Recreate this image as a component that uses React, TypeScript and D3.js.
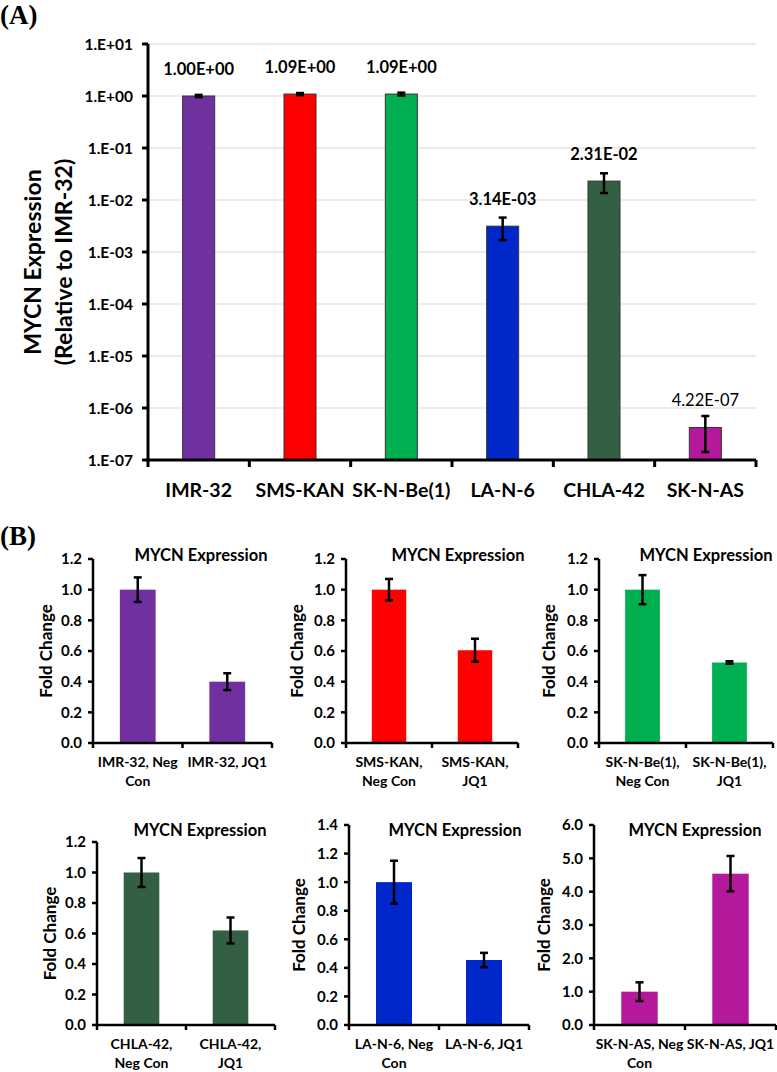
import React from "react";
import * as d3 from "d3";

const W = 777;
const H = 1072;
const FONT = "Lato, 'Open Sans', sans-serif";

// ---------- Panel A data ----------
const cellLinesA = ["IMR-32", "SMS-KAN", "SK-N-Be(1)", "LA-N-6", "CHLA-42", "SK-N-AS"];
const expressionA = [1.0, 1.09, 1.09, 3.14e-3, 2.31e-2, 4.22e-7];
const errorA = [0.05, 0.05, 0.07, 1.45e-3, 0.95e-2, 2.8e-7];
const colorsA = ["#7030A0", "#FF0000", "#00B050", "#0027C9", "#335F43", "#B4189B"];
const ticksA = [1e1, 1e0, 1e-1, 1e-2, 1e-3, 1e-4, 1e-5, 1e-6, 1e-7];
const yTitleA = ["MYCN Expression", "(Relative to IMR-32)"];

// ---------- Panel B data ----------
const cellLinesB = ["IMR-32", "SMS-KAN", "SK-N-Be(1)", "CHLA-42", "LA-N-6", "SK-N-AS"];
const colorsB = ["#7030A0", "#FF0000", "#00B050", "#335F43", "#0027C9", "#B4189B"];
const negConValues = [1.0, 1.0, 1.0, 1.0, 1.0, 1.0];
const negConErrors = [0.08, 0.07, 0.095, 0.095, 0.15, 0.28];
const jq1Values = [0.4, 0.605, 0.525, 0.62, 0.455, 4.54];
const jq1Errors = [0.055, 0.075, 0.008, 0.085, 0.05, 0.53];
const yMaxB = [1.2, 1.2, 1.2, 1.2, 1.4, 6.0];
const yStepB = [0.2, 0.2, 0.2, 0.2, 0.2, 1.0];
const xLabelsB = [
  ["IMR-32, Neg\nCon", "IMR-32, JQ1"],
  ["SMS-KAN,\nNeg Con", "SMS-KAN,\nJQ1"],
  ["SK-N-Be(1),\nNeg Con", "SK-N-Be(1),\nJQ1"],
  ["CHLA-42,\nNeg Con", "CHLA-42,\nJQ1"],
  ["LA-N-6, Neg\nCon", "LA-N-6, JQ1"],
  ["SK-N-AS, Neg\nCon", "SK-N-AS, JQ1"],
];
const titleB = "MYCN Expression";
const yTitleB = "Fold Change";

// ---------- Layout (positions only) ----------
const layoutA = { x0: 148, x1: 756, yTop: 44, yBottom: 460 };
const layoutB = [
  { x0: 93, x1: 272, yBottom: 743, yTop: 559, titleX: 201, titleY: 561, labelX: 46 },
  { x0: 346, x1: 518, yBottom: 743, yTop: 559, titleX: 458, titleY: 561, labelX: 297 },
  { x0: 599, x1: 773, yBottom: 743, yTop: 559, titleX: 706, titleY: 561, labelX: 549 },
  { x0: 97, x1: 275, yBottom: 1025, yTop: 842, titleX: 200, titleY: 836, labelX: 50 },
  { x0: 349, x1: 529, yBottom: 1025, yTop: 825, titleX: 455, titleY: 836, labelX: 299 },
  { x0: 594, x1: 776, yBottom: 1025, yTop: 825, titleX: 695, titleY: 836, labelX: 544 },
];

function sciLabel(v: number): string {
  let e = Math.floor(Math.log10(v));
  let m = v / Math.pow(10, e);
  if (Number(m.toFixed(2)) >= 10) {
    e += 1;
    m = v / Math.pow(10, e);
  }
  const sign = e < 0 ? "-" : "+";
  return `${m.toFixed(2)}E${sign}${String(Math.abs(e)).padStart(2, "0")}`;
}
function tickLabelA(v: number): string {
  const e = Math.round(Math.log10(v));
  const sign = e < 0 ? "-" : "+";
  return `1.E${sign}${String(Math.abs(e)).padStart(2, "0")}`;
}

function PanelA() {
  const { x0, x1, yTop, yBottom } = layoutA;
  const y = d3.scaleLog().domain([1e-7, 1e1]).range([yBottom, yTop]);
  const x = d3
    .scaleBand<string>()
    .domain(cellLinesA)
    .range([x0, x1])
    .paddingInner(0.684)
    .paddingOuter(0.342);
  const step = x.step();
  return (
    <g>
      {ticksA.slice(0, -1).map((t) => (
        <line key={"g" + t} x1={x0} x2={x1} y1={y(t)} y2={y(t)} stroke="#d9d9d9" strokeWidth={1} />
      ))}
      {cellLinesA.map((c, i) => {
        const bx = x(c)!;
        const v = expressionA[i];
        return (
          <rect
            key={c}
            x={bx}
            y={y(v)}
            width={x.bandwidth()}
            height={yBottom - y(v)}
            fill={colorsA[i]}
            stroke="#333"
            strokeWidth={1}
          />
        );
      })}
      {cellLinesA.map((c, i) => {
        const cx = x(c)! + x.bandwidth() / 2;
        const v = expressionA[i];
        const hi = y(v + errorA[i]);
        const lo = y(v - errorA[i]);
        return (
          <g key={"e" + c} stroke="#000" strokeWidth={2.5}>
            <line x1={cx} x2={cx} y1={hi} y2={lo} />
            <line x1={cx - 4} x2={cx + 4} y1={hi} y2={hi} />
            <line x1={cx - 4} x2={cx + 4} y1={lo} y2={lo} />
          </g>
        );
      })}
      {cellLinesA.map((c, i) => {
        const cx = x(c)! + x.bandwidth() / 2;
        const v = expressionA[i];
        return (
          <text
            key={"v" + c}
            x={cx}
            y={y(v) - 21}
            textAnchor="middle"
            fontFamily={FONT}
            fontWeight={i === 5 ? 400 : 700}
            fontSize={16.5}
            fill="#000"
          >
            {sciLabel(v)}
          </text>
        );
      })}
      {/* axes */}
      <line x1={x0} x2={x0} y1={yTop} y2={yBottom} stroke="#000" strokeWidth={3} />
      <line x1={x0 - 1.5} x2={x1} y1={yBottom} y2={yBottom} stroke="#000" strokeWidth={3} />
      {ticksA.map((t) => (
        <g key={"t" + t}>
          <line x1={x0 - 6} x2={x0} y1={y(t)} y2={y(t)} stroke="#000" strokeWidth={3} />
          <text
            x={133}
            y={y(t)}
            dy="0.36em"
            textAnchor="end"
            fontFamily={FONT}
            fontWeight={700}
            fontSize={15.5}
          >
            {tickLabelA(t)}
          </text>
        </g>
      ))}
      {d3.range(cellLinesA.length + 1).map((i) => (
        <line
          key={"xt" + i}
          x1={x0 + i * step}
          x2={x0 + i * step}
          y1={yBottom}
          y2={yBottom + 7}
          stroke="#000"
          strokeWidth={3}
        />
      ))}
      {cellLinesA.map((c) => (
        <text
          key={"xl" + c}
          x={x(c)! + x.bandwidth() / 2}
          y={497}
          textAnchor="middle"
          fontFamily={FONT}
          fontWeight={700}
          fontSize={19.5}
        >
          {c}
        </text>
      ))}
      <text
        transform={`translate(0,262) rotate(-90)`}
        textAnchor="middle"
        fontFamily={FONT}
        fontWeight={700}
        fontSize={23}
      >
        <tspan x={0} y={41}>
          {yTitleA[0]}
        </tspan>
        <tspan x={0} y={72}>
          {yTitleA[1]}
        </tspan>
      </text>
    </g>
  );
}

function SubPlot({ idx }: { idx: number }) {
  const L = layoutB[idx];
  const cats = xLabelsB[idx];
  const vals = [negConValues[idx], jq1Values[idx]];
  const errs = [negConErrors[idx], jq1Errors[idx]];
  const y = d3.scaleLinear().domain([0, yMaxB[idx]]).range([L.yBottom, L.yTop]);
  const x = d3
    .scaleBand<string>()
    .domain(cats)
    .range([L.x0, L.x1])
    .paddingInner(0.6)
    .paddingOuter(0.3);
  const ticks = d3.range(0, yMaxB[idx] + yStepB[idx] / 2, yStepB[idx]);
  const step = x.step();
  return (
    <g>
      {cats.map((c, i) => (
        <rect
          key={c}
          x={x(c)}
          y={y(vals[i])}
          width={x.bandwidth()}
          height={L.yBottom - y(vals[i])}
          fill={colorsB[idx]}
        />
      ))}
      {cats.map((c, i) => {
        const cx = x(c)! + x.bandwidth() / 2;
        const hi = y(vals[i] + errs[i]);
        const lo = y(vals[i] - errs[i]);
        return (
          <g key={"e" + c} stroke="#000" strokeWidth={2.5}>
            <line x1={cx} x2={cx} y1={hi} y2={lo} />
            <line x1={cx - 4} x2={cx + 4} y1={hi} y2={hi} />
            <line x1={cx - 4} x2={cx + 4} y1={lo} y2={lo} />
          </g>
        );
      })}
      <line x1={L.x0} x2={L.x0} y1={L.yTop} y2={L.yBottom} stroke="#000" strokeWidth={2.5} />
      <line x1={L.x0 - 1.25} x2={L.x1} y1={L.yBottom} y2={L.yBottom} stroke="#000" strokeWidth={2.5} />
      {ticks.map((t) => (
        <g key={"t" + t}>
          <line x1={L.x0 - 5} x2={L.x0} y1={y(t)} y2={y(t)} stroke="#000" strokeWidth={2.5} />
          <text
            x={L.x0 - 11}
            y={y(t)}
            dy="0.36em"
            textAnchor="end"
            fontFamily={FONT}
            fontWeight={700}
            fontSize={15}
          >
            {d3.format(".1f")(t)}
          </text>
        </g>
      ))}
      {d3.range(cats.length + 1).map((i) => (
        <line
          key={"xt" + i}
          x1={L.x0 + i * step}
          x2={L.x0 + i * step}
          y1={L.yBottom}
          y2={L.yBottom + 5}
          stroke="#000"
          strokeWidth={2.5}
        />
      ))}
      {cats.map((c) => {
        const cx = x(c)! + x.bandwidth() / 2;
        return (
          <text
            key={"xl" + c}
            textAnchor="middle"
            fontFamily={FONT}
            fontWeight={700}
            fontSize={14}
          >
            {c.split("\n").map((line, j) => (
              <tspan key={j} x={cx} y={L.yBottom + 24 + j * 19}>
                {line}
              </tspan>
            ))}
          </text>
        );
      })}
      <text
        x={L.titleX}
        y={L.titleY}
        textAnchor="middle"
        fontFamily={FONT}
        fontWeight={700}
        fontSize={16.5}
      >
        {titleB}
      </text>
      <text
        transform={`translate(${L.labelX},${(L.yTop + L.yBottom) / 2}) rotate(-90)`}
        textAnchor="middle"
        dy="0.35em"
        fontFamily={FONT}
        fontWeight={700}
        fontSize={17}
      >
        {yTitleB}
      </text>
    </g>
  );
}

export default function App() {
  return (
    <svg
      width={W}
      height={H}
      viewBox={`0 0 ${W} ${H}`}
      style={{ position: "absolute", left: 0, top: 0, display: "block", background: "#fff" }}
    >
      <rect x={0} y={0} width={W} height={H} fill="#fff" />
      <text x={0} y={24} fontFamily="'Liberation Serif', 'Times New Roman', serif" fontWeight={700} fontSize={27}>
        (A)
      </text>
      <text x={0} y={545} fontFamily="'Liberation Serif', 'Times New Roman', serif" fontWeight={700} fontSize={27}>
        (B)
      </text>
      <PanelA />
      {cellLinesB.map((c, i) => (
        <SubPlot key={c} idx={i} />
      ))}
    </svg>
  );
}
